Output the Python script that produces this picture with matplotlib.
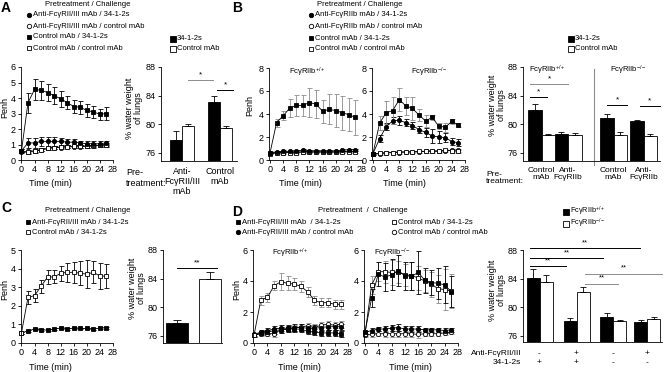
import numpy as np
import matplotlib
matplotlib.use("Agg")
import matplotlib.pyplot as plt
from matplotlib.lines import Line2D

plt.rcParams["font.family"] = ["Liberation Sans", "DejaVu Sans"]
plt.rcParams["mathtext.fontset"] = "custom"
plt.rcParams["mathtext.rm"] = "Liberation Sans"
plt.rcParams["mathtext.it"] = "Liberation Sans:italic"
plt.rcParams["axes.linewidth"] = 0.6

# ---------------------------------------------------------------- data
TIME = [0, 2, 4, 6, 8, 10, 12, 14, 16, 18, 20, 22, 24, 26]

# A: anti-FcgRII/III vs control mAb pretreatment
A_anti_34 = [0.6, 1.1, 1.1, 1.2, 1.2, 1.2, 1.2, 1.15, 1.15, 1.1, 1.05, 1.05, 1.05, 1.1]
A_anti_34_err = [0.1, 0.3, 0.3, 0.3, 0.3, 0.3, 0.25, 0.2, 0.2, 0.15, 0.15, 0.15, 0.15, 0.1]
A_anti_ctrl = [0.5, 0.55, 0.6, 0.65, 0.75, 0.8, 0.8, 0.85, 0.85, 0.85, 0.9, 0.9, 0.95, 0.95]
A_anti_ctrl_err = [0.05, 0.1, 0.1, 0.1, 0.1, 0.1, 0.1, 0.1, 0.1, 0.1, 0.1, 0.1, 0.1, 0.1]
A_ctrl_34 = [0.6, 3.7, 4.55, 4.5, 4.35, 4.15, 3.95, 3.7, 3.45, 3.4, 3.2, 3.1, 2.95, 3.0]
A_ctrl_34_err = [0.1, 0.65, 0.7, 0.6, 0.55, 0.55, 0.5, 0.4, 0.4, 0.4, 0.4, 0.4, 0.35, 0.45]
A_ctrl_ctrl = [0.55, 0.5, 0.55, 0.65, 0.75, 0.8, 0.85, 0.85, 0.9, 0.9, 0.9, 0.95, 0.95, 1.0]
A_ctrl_ctrl_err = [0.05, 0.1, 0.1, 0.1, 0.1, 0.1, 0.1, 0.1, 0.1, 0.1, 0.1, 0.1, 0.1, 0.1]

A_bar_black = [77.8, 83.1]
A_bar_black_err = [1.2, 0.9]
A_bar_white = [79.7, 79.5]
A_bar_white_err = [0.3, 0.25]
A_bar_labels = ["Anti-\nFc\u03b3RII/III\nmAb", "Control\nmAb"]

# B: anti-FcgRIIb, wild type and knockout
B_wt_ctrl_34 = [0.6, 3.25, 3.85, 4.5, 4.75, 4.75, 5.0, 4.85, 4.25, 4.4, 4.3, 4.1, 3.95, 3.7]
B_wt_ctrl_34_err = [0.1, 0.35, 0.4, 0.8, 0.9, 0.9, 1.3, 1.2, 1.0, 1.3, 1.4, 1.5, 1.4, 1.5]
B_wt_anti_34 = [0.65, 0.7, 0.75, 0.75, 0.8, 0.85, 0.8, 0.8, 0.8, 0.8, 0.8, 0.85, 0.9, 0.9]
B_wt_anti_ctrl = [0.6, 0.65, 0.65, 0.7, 0.7, 0.7, 0.7, 0.7, 0.7, 0.7, 0.7, 0.75, 0.75, 0.75]
B_wt_ctrl_ctrl = [0.55, 0.6, 0.65, 0.65, 0.65, 0.7, 0.7, 0.7, 0.7, 0.7, 0.7, 0.7, 0.7, 0.7]
B_wt_small_err = [0.05, 0.1, 0.1, 0.1, 0.1, 0.1, 0.1, 0.1, 0.1, 0.1, 0.1, 0.1, 0.1, 0.1]

B_ko_ctrl_34 = [0.55, 3.2, 4.1, 4.3, 5.25, 4.7, 4.5, 3.9, 3.4, 3.7, 2.95, 2.85, 3.35, 3.05]
B_ko_ctrl_34_err = [0.1, 0.6, 1.0, 1.2, 1.0, 0.8, 1.0, 0.5, 0.5, 0.2, 0.25, 0.4, 0.25, 0.2]
B_ko_anti_34 = [0.55, 1.85, 2.9, 3.4, 3.45, 3.25, 3.0, 2.65, 2.4, 2.1, 2.0, 1.95, 1.6, 1.5]
B_ko_anti_34_err = [0.1, 0.3, 0.3, 0.3, 0.4, 0.3, 0.3, 0.3, 0.4, 0.6, 0.5, 0.4, 0.3, 0.3]
B_ko_anti_ctrl = [0.5, 0.55, 0.6, 0.65, 0.65, 0.7, 0.7, 0.7, 0.75, 0.75, 0.75, 0.8, 0.85, 0.85]
B_ko_ctrl_ctrl = [0.5, 0.6, 0.65, 0.65, 0.7, 0.7, 0.7, 0.75, 0.75, 0.8, 0.8, 0.85, 0.8, 0.75]
B_ko_small_err = [0.05, 0.1, 0.1, 0.1, 0.1, 0.1, 0.1, 0.1, 0.1, 0.1, 0.1, 0.1, 0.15, 0.15]

B_bar_black = [82.0, 78.7, 80.9, 80.5]
B_bar_black_err = [0.8, 0.2, 0.5, 0.15]
B_bar_white = [78.5, 78.5, 78.5, 78.4]
B_bar_white_err = [0.2, 0.3, 0.4, 0.3]
B_bar_labels = ["Control\nmAb", "Anti-\nFc\u03b3RIIb", "Control\nmAb", "Anti-\nFc\u03b3RIIb"]

# C: anti-FcgRII/III vs control mAb, both challenged with 34-1-2s
C_anti_34 = [0.55, 0.65, 0.75, 0.7, 0.7, 0.75, 0.8, 0.75, 0.8, 0.78, 0.78, 0.75, 0.8, 0.82]
C_anti_34_err = [0.05, 0.05, 0.05, 0.05, 0.05, 0.05, 0.05, 0.05, 0.05, 0.05, 0.05, 0.05, 0.05, 0.05]
C_ctrl_34 = [0.55, 2.45, 2.55, 3.05, 3.55, 3.55, 3.75, 3.8, 3.8, 3.75, 3.7, 3.8, 3.6, 3.6]
C_ctrl_34_err = [0.05, 0.35, 0.35, 0.35, 0.4, 0.35, 0.4, 0.5, 0.55, 0.65, 0.75, 0.6, 0.7, 0.65]

C_bar_values = [77.8, 84.0]
C_bar_err = [0.4, 0.9]

# D: anti-FcgRII/III, wild type and knockout
D_wt_anti_34 = [0.5, 0.65, 0.7, 0.8, 0.85, 0.9, 0.9, 0.9, 0.75, 0.7, 0.65, 0.65, 0.65, 0.6]
D_wt_anti_ctrl = [0.55, 0.7, 0.8, 0.9, 0.95, 0.95, 1.0, 1.0, 0.95, 0.95, 1.0, 1.05, 1.05, 1.05]
D_wt_ctrl_34 = [0.5, 2.75, 2.95, 3.7, 3.95, 3.85, 3.8, 3.65, 3.3, 2.75, 2.6, 2.6, 2.5, 2.5]
D_wt_ctrl_34_err = [0.1, 0.3, 0.3, 0.3, 0.55, 0.45, 0.4, 0.35, 0.3, 0.3, 0.3, 0.3, 0.3, 0.3]
D_wt_ctrl_ctrl = [0.5, 0.6, 0.6, 0.6, 0.85, 0.9, 0.95, 1.05, 1.1, 1.0, 1.15, 1.2, 1.15, 1.2]
D_wt_small_err = [0.1, 0.15, 0.15, 0.2, 0.2, 0.2, 0.2, 0.2, 0.2, 0.2, 0.2, 0.2, 0.2, 0.2]

D_ko_anti_34 = [0.7, 2.9, 4.45, 4.25, 4.4, 4.65, 4.35, 4.3, 4.55, 4.05, 3.9, 3.85, 3.75, 3.3]
D_ko_anti_34_err = [0.1, 0.6, 0.8, 0.9, 1.0, 1.0, 0.9, 0.9, 1.4, 0.8, 0.8, 1.0, 1.2, 1.0]
D_ko_anti_ctrl = [0.7, 0.8, 0.9, 0.9, 0.95, 1.0, 0.9, 0.9, 0.9, 0.85, 0.85, 0.85, 0.8, 0.85]
D_ko_ctrl_34 = [0.55, 3.75, 4.6, 4.6, 4.55, 4.6, 4.4, 4.35, 4.2, 4.0, 3.8, 3.5, 3.45, 3.35]
D_ko_ctrl_34_err = [0.1, 0.6, 0.6, 0.7, 0.8, 0.7, 0.7, 0.9, 0.8, 0.7, 0.8, 0.9, 1.3, 1.1]
D_ko_ctrl_ctrl = [0.5, 0.55, 0.6, 0.6, 0.6, 0.6, 0.6, 0.6, 0.55, 0.6, 0.6, 0.6, 0.65, 0.7]
D_ko_small_err = [0.1, 0.15, 0.15, 0.2, 0.2, 0.2, 0.2, 0.2, 0.2, 0.15, 0.15, 0.15, 0.15, 0.15]

D_bar_black = [84.1, 78.1, 78.6, 78.0]
D_bar_black_err = [1.3, 0.4, 0.6, 0.3]
D_bar_white = [83.6, 82.1, 78.1, 78.4]
D_bar_white_err = [0.9, 0.7, 0.1, 0.3]
D_row_anti = ["-", "+", "-", "+"]
D_row_34 = ["+", "+", "-", "-"]

LEG_A = ["Anti-Fc\u03b3RII/III mAb / 34-1-2s", "Anti-Fc\u03b3RII/III mAb / control mAb",
         "Control mAb / 34-1-2s", "Control mAb / control mAb"]
LEG_B = ["Anti-Fc\u03b3RIIb mAb / 34-1-2s", "Anti-Fc\u03b3RIIb mAb / control mAb",
         "Control mAb / 34-1-2s", "Control mAb / control mAb"]
LEG_C = ["Anti-Fc\u03b3RII/III mAb / 34-1-2s", "Control mAb / 34-1-2s"]
LEG_D = ["Anti-Fc\u03b3RII/III mAb  / 34-1-2s", "Anti-Fc\u03b3RII/III mAb / control mAb",
         "Control mAb / 34-1-2s", "Control mAb / control mAb"]
WT = "Fc\u03b3RIIb$^{+/+}$"
KO = "Fc\u03b3RIIb$^{-/-}$"

# ---------------------------------------------------------------- helpers
W, H = 664, 372
fig = plt.figure(figsize=(W / 100, H / 100), dpi=100)
GRAY = "0.55"
TICK = 6.5


def px_axes(left, top, right, bottom):
    return fig.add_axes([left / W, 1 - bottom / H, (right - left) / W, (bottom - top) / H])


def ftext(x, y, s, **kw):
    kw.setdefault("va", "center")
    return fig.text(x / W, 1 - y / H, s, **kw)


def fmarker(x, y, marker, filled, ms=3.2):
    fig.add_artist(Line2D([x / W], [1 - y / H], transform=fig.transFigure, ls="none",
                          marker=marker, ms=ms, mec="black", mew=0.6,
                          mfc="black" if filled else "white"))


def style_axes(ax):
    for side in ("top", "right"):
        ax.spines[side].set_visible(False)
    ax.tick_params(direction="out", length=2.5, width=0.6, pad=1.2, labelsize=TICK)


def line_panel(ax, series, ymax, ystep):
    for vals, errs, marker, filled, ecol in series:
        ax.errorbar(TIME, vals, yerr=errs, color="black", lw=0.6, marker=marker,
                    ms=3.4 if marker == "s" else 3.0, mec="black", mew=0.6,
                    mfc="black" if filled else "white", ecolor=ecol, elinewidth=0.6,
                    capsize=1.8, capthick=0.6, clip_on=False)
    ax.set_xlim(-0.3, 28)
    ax.set_ylim(0, ymax)
    ax.set_xticks(range(0, 29, 4))
    ax.set_yticks(np.arange(0, ymax + 0.01, ystep))
    style_axes(ax)


def bar_pairs(ax, centers, black, black_err, white, white_err, width, ylim, xmax):
    centers = np.asarray(centers, dtype=float)
    zeros = np.zeros(len(centers))
    ax.bar(centers - width / 2, black, width, color="black", edgecolor="black", lw=0.6)
    ax.bar(centers + width / 2, white, width, color="white", edgecolor="black", lw=0.6)
    ax.errorbar(centers - width / 2, black, yerr=[zeros, black_err], fmt="none",
                ecolor="black", elinewidth=0.6, capsize=2.2, capthick=0.6)
    ax.errorbar(centers + width / 2, white, yerr=[zeros, white_err], fmt="none",
                ecolor="black", elinewidth=0.6, capsize=2.2, capthick=0.6)
    bar_axes_style(ax, ylim, xmax)


def bar_axes_style(ax, ylim, xmax):
    ax.set_ylim(*ylim)
    ax.set_xlim(0, xmax)
    ax.set_yticks([76, 80, 84, 88])
    style_axes(ax)
    ax.tick_params(axis="x", length=0)


def sig(ax, x1, x2, y, label, color="black", size=6):
    ax.plot([x1, x2], [y, y], color=color, lw=0.7, clip_on=False)
    ax.text((x1 + x2) / 2, y + 0.25, label, ha="center", va="bottom", fontsize=size,
            clip_on=False)


def legend_block(x_mark, title_x, title_y, rows, entries, fs=5.5):
    ftext(title_x, title_y, "Pretreatment / Challenge", ha="center", fontsize=fs)
    for (y, marker, filled), label in zip(rows, entries):
        fmarker(x_mark, y, marker, filled)
        ftext(x_mark + 4, y, label, ha="left", fontsize=fs)


# ---------------------------------------------------------------- panel A
ftext(1, 8, "A", fontsize=10, fontweight="bold", ha="left")
legend_block(29, 88, 4, [(15, "o", True), (26, "o", False), (37, "s", True), (48, "s", False)],
             LEG_A)
fmarker(173, 39, "s", True, 4)
ftext(177, 39, "34-1-2s", fontsize=5.5)
fmarker(173, 49, "s", False, 4)
ftext(177, 49, "Control mAb", fontsize=5.5)

ax = px_axes(20.5, 67, 113, 160)
line_panel(ax, [
    (A_anti_ctrl, A_anti_ctrl_err, "o", False, "black"),
    (A_ctrl_ctrl, A_ctrl_ctrl_err, "s", False, "black"),
    (A_anti_34, A_anti_34_err, "o", True, "black"),
    (A_ctrl_34, A_ctrl_34_err, "s", True, "black"),
], 6, 1)
ftext(5, 108, "Penh", rotation=90, ha="center", fontsize=TICK)
ftext(50, 184, "Time (min)", ha="center", fontsize=TICK)

ax = px_axes(161, 67, 237, 161)
bar_pairs(ax, [21, 58.5], A_bar_black, A_bar_black_err, A_bar_white, A_bar_white_err,
          12, (74.88, 88), 76)
ax.set_xticks([21, 58.5], A_bar_labels, fontsize=TICK, linespacing=1.15)
ax.tick_params(axis="x", pad=4)
sig(ax, 27, 52, 86.2, "*", GRAY)
sig(ax, 56, 72, 84.8, "*")
ftext(134, 108, "% water weight\nof lungs", rotation=90, ha="center", fontsize=TICK,
      linespacing=1.1)
ftext(126, 178, "Pre-\ntreatment:", ha="left", fontsize=TICK, linespacing=1.15)

# ---------------------------------------------------------------- panel B
ftext(232, 8, "B", fontsize=10, fontweight="bold", ha="left")
legend_block(311, 360, 4, [(15, "o", True), (26, "o", False), (38, "s", True), (49, "s", False)],
             LEG_B)
fmarker(571, 39, "s", True, 4)
ftext(575, 39, "34-1-2s", fontsize=5.5)
fmarker(571, 49, "s", False, 4)
ftext(575, 49, "Control mAb", fontsize=5.5)

ax = px_axes(269, 68, 362, 160)
line_panel(ax, [
    (B_wt_anti_ctrl, B_wt_small_err, "o", False, GRAY),
    (B_wt_ctrl_ctrl, B_wt_small_err, "s", False, GRAY),
    (B_wt_anti_34, B_wt_small_err, "o", True, "black"),
    (B_wt_ctrl_34, B_wt_ctrl_34_err, "s", True, GRAY),
], 8, 2)
ftext(307, 72, WT, ha="center", fontsize=5.5)
ftext(250, 105, "Penh", rotation=90, ha="center", fontsize=TICK)
ftext(300, 183, "Time (min)", ha="center", fontsize=TICK)

ax = px_axes(372, 68, 465, 160)
line_panel(ax, [
    (B_ko_anti_ctrl, B_ko_small_err, "o", False, GRAY),
    (B_ko_ctrl_ctrl, B_ko_small_err, "s", False, GRAY),
    (B_ko_anti_34, B_ko_anti_34_err, "o", True, "black"),
    (B_ko_ctrl_34, B_ko_ctrl_34_err, "s", True, GRAY),
], 8, 2)
ftext(429, 72, KO, ha="center", fontsize=5.5)
ftext(404, 183, "Time (min)", ha="center", fontsize=TICK)

ax = px_axes(523, 67, 660, 161)
b_centers = [18.5, 45, 90.5, 120.5]
bar_pairs(ax, b_centers, B_bar_black, B_bar_black_err, B_bar_white, B_bar_white_err,
          13.5, (74.88, 88), 137)
ax.set_xticks(b_centers, B_bar_labels, fontsize=6, linespacing=1.15)
ax.tick_params(axis="x", pad=4)
ax.axvline(71, ymin=-0.043, ymax=0.98, color=GRAY, lw=0.8, clip_on=False)
sig(ax, 7, 45, 85.6, "*", GRAY)
sig(ax, 7, 24, 83.8, "*")
sig(ax, 84, 104, 82.7, "*")
sig(ax, 117, 137, 82.6, "*")
ftext(547, 70, WT, ha="center", fontsize=5.5)
ftext(628, 70, KO, ha="center", fontsize=5.5)
ftext(497, 105, "% water weight\nof lungs", rotation=90, ha="center", fontsize=TICK,
      linespacing=1.1)
ftext(486, 178, "Pre-\ntreatment:", ha="left", fontsize=6, linespacing=1.15)

# ---------------------------------------------------------------- panel C
ftext(1, 208, "C", fontsize=10, fontweight="bold", ha="left")
legend_block(28, 88, 210, [(222, "s", True), (232, "s", False)], LEG_C)

ax = px_axes(20.5, 250, 113, 343)
line_panel(ax, [
    (C_anti_34, C_anti_34_err, "s", True, "black"),
    (C_ctrl_34, C_ctrl_34_err, "s", False, "black"),
], 5, 1)
ftext(5, 290, "Penh", rotation=90, ha="center", fontsize=TICK)
ftext(50, 367, "Time (min)", ha="center", fontsize=TICK)

ax = px_axes(163, 250, 222, 343)
c_pos = [14, 47]
ax.bar(c_pos, C_bar_values, 22, color=["black", "white"], edgecolor="black", lw=0.6)
ax.errorbar(c_pos, C_bar_values, yerr=[[0, 0], C_bar_err], fmt="none", ecolor="black",
            elinewidth=0.6, capsize=3, capthick=0.6)
bar_axes_style(ax, (75.02, 88), 59)
ax.set_xticks([])
sig(ax, 14, 54, 85.5, "**")
ftext(137, 288, "% water weight\nof lungs", rotation=90, ha="center", fontsize=TICK,
      linespacing=1.1)

# ---------------------------------------------------------------- panel D
ftext(232, 212, "D", fontsize=10, fontweight="bold", ha="left")
ftext(363, 210, "Pretreatment  /  Challenge", ha="center", fontsize=5.5)
for (x, y, marker, filled), label in zip(
        [(238, 222, "s", True), (238, 232, "o", True), (394, 222, "s", False), (394, 232, "o", False)],
        LEG_D):
    fmarker(x, y, marker, filled)
    ftext(x + 4, y, label, ha="left", fontsize=5.5)
fmarker(566, 212, "s", True, 4)
ftext(570, 211, WT, fontsize=5.3)
fmarker(566, 224, "s", False, 4)
ftext(570, 223.5, KO, fontsize=5.3)

ax = px_axes(253, 250, 348, 343)
line_panel(ax, [
    (D_wt_ctrl_ctrl, D_wt_small_err, "o", False, GRAY),
    (D_wt_anti_ctrl, D_wt_small_err, "o", True, "black"),
    (D_wt_anti_34, D_wt_small_err, "s", True, "black"),
    (D_wt_ctrl_34, D_wt_ctrl_34_err, "s", False, GRAY),
], 6, 2)
ftext(290, 253, WT, ha="center", fontsize=5.5)
ftext(237, 290, "Penh", rotation=90, ha="center", fontsize=TICK)
ftext(299, 367, "Time (min)", ha="center", fontsize=TICK)

ax = px_axes(364, 250, 458, 343)
line_panel(ax, [
    (D_ko_ctrl_ctrl, D_ko_small_err, "o", False, GRAY),
    (D_ko_anti_ctrl, D_ko_small_err, "o", True, "black"),
    (D_ko_ctrl_34, D_ko_ctrl_34_err, "s", False, GRAY),
    (D_ko_anti_34, D_ko_anti_34_err, "s", True, "black"),
], 6, 2)
ftext(392, 253, KO, ha="center", fontsize=5.5)
ftext(410, 367, "Time (min)", ha="center", fontsize=TICK)

ax = px_axes(523, 250, 662, 342)
d_centers = [16.5, 53.5, 90, 124]
bar_pairs(ax, d_centers, D_bar_black, D_bar_black_err, D_bar_white, D_bar_white_err,
          13, (75.16, 88), 139)
ax.set_xticks(d_centers, [f"{a}\n{b}" for a, b in zip(D_row_anti, D_row_34)],
              fontsize=6, linespacing=1.3)
ax.tick_params(axis="x", pad=6)
sig(ax, 7, 117, 88.3, "**", size=5.5)
sig(ax, 7, 80, 86.9, "**", size=5.5)
sig(ax, 7, 43, 85.8, "**", size=5.5)
sig(ax, 62, 139, 84.7, "**", GRAY, size=5.5)
sig(ax, 62, 95, 83.3, "**", GRAY, size=5.5)
ftext(497, 290, "% water weight\nof lungs", rotation=90, ha="center", fontsize=TICK,
      linespacing=1.1)
ftext(521, 358, "Anti-Fc\u03b3RII/III\n34-1-2s", ha="right", fontsize=6, linespacing=1.3,
      multialignment="right")

fig.savefig("out.png", dpi=100)
